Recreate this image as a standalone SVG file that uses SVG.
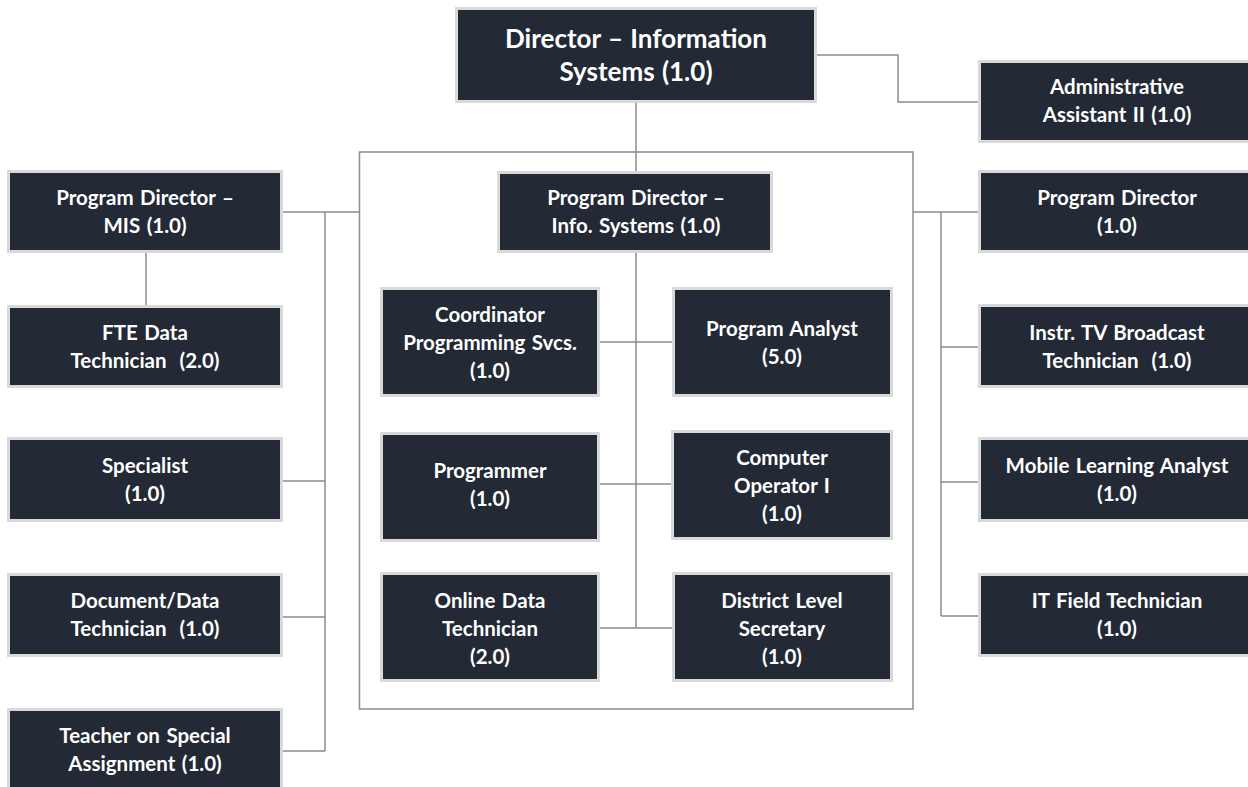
<svg xmlns="http://www.w3.org/2000/svg" width="1248" height="787" viewBox="0 0 1248 787">
  <style>
    .box { fill: #232a36; stroke: #d9d9d9; stroke-width: 3; }
    .lbl { font-family: Lato, "Open Sans", "Liberation Sans", sans-serif; font-weight: 700; font-size: 20.5px; word-spacing: 1.5px; fill: #ffffff; text-anchor: middle; white-space: pre; }
    .big { font-size: 26px; word-spacing: 1px; }
    .wire { fill: none; stroke: #8c8c8c; stroke-width: 1.5; }
  </style>
  <rect width="1248" height="787" fill="#ffffff"/>

  <!-- connectors -->
  <g id="connectors">
    <rect class="wire" x="359.5" y="152" width="553.5" height="557"/>
    <path class="wire" d="M636 103 V171"/>
    <path class="wire" d="M817 55 H898 V102 H978"/>
    <path class="wire" d="M283 212 H359.5"/>
    <path class="wire" d="M325 212 V751"/>
    <path class="wire" d="M283 481 H325 M283 617 H325 M283 751 H325"/>
    <path class="wire" d="M146 253 V305"/>
    <path class="wire" d="M913 212 H978"/>
    <path class="wire" d="M941 212 V616"/>
    <path class="wire" d="M941 347 H978 M941 482 H978 M941 616 H978"/>
    <path class="wire" d="M636 253 V628"/>
    <path class="wire" d="M600 342 H672 M600 484 H671 M600 628 H672"/>
  </g>

  <!-- top -->
  <g id="director">
    <rect class="box" x="456.5" y="8.5" width="359" height="93"/>
    <text class="lbl big" x="636" y="48">Director – Information</text>
    <text class="lbl big" x="636" y="81">Systems (1.0)</text>
  </g>
  <g id="admin-assistant">
    <rect class="box" x="979.5" y="61.5" width="276" height="80"/>
    <text class="lbl" x="1117" y="94">Administrative</text>
    <text class="lbl" x="1117" y="122">Assistant II (1.0)</text>
  </g>

  <!-- left column -->
  <g id="pd-mis">
    <rect class="box" x="8.5" y="171.5" width="273" height="80"/>
    <text class="lbl" x="145" y="205">Program Director –</text>
    <text class="lbl" x="145" y="233">MIS (1.0)</text>
  </g>
  <g id="fte-tech">
    <rect class="box" x="8.5" y="306.5" width="273" height="80"/>
    <text class="lbl" x="145" y="340">FTE Data</text>
    <text class="lbl" x="145" y="368">Technician  (2.0)</text>
  </g>
  <g id="specialist">
    <rect class="box" x="8.5" y="438.5" width="273" height="82"/>
    <text class="lbl" x="145" y="473">Specialist</text>
    <text class="lbl" x="145" y="501">(1.0)</text>
  </g>
  <g id="doc-tech">
    <rect class="box" x="8.5" y="574.5" width="273" height="81"/>
    <text class="lbl" x="145" y="608">Document/Data</text>
    <text class="lbl" x="145" y="636">Technician  (1.0)</text>
  </g>
  <g id="tosa">
    <rect class="box" x="8.5" y="709.5" width="273" height="81"/>
    <text class="lbl" x="145" y="743">Teacher on Special</text>
    <text class="lbl" x="145" y="771">Assignment (1.0)</text>
  </g>

  <!-- centre group -->
  <g id="pd-info">
    <rect class="box" x="498.5" y="172.5" width="273" height="79"/>
    <text class="lbl" x="636" y="205">Program Director –</text>
    <text class="lbl" x="636" y="233">Info. Systems (1.0)</text>
  </g>
  <g id="coordinator">
    <rect class="box" x="381.5" y="288.5" width="217" height="107"/>
    <text class="lbl" x="490" y="322">Coordinator</text>
    <text class="lbl" x="490" y="350">Programming Svcs.</text>
    <text class="lbl" x="490" y="378">(1.0)</text>
  </g>
  <g id="analyst">
    <rect class="box" x="673.5" y="288.5" width="218" height="107"/>
    <text class="lbl" x="782" y="336">Program Analyst</text>
    <text class="lbl" x="782" y="364">(5.0)</text>
  </g>
  <g id="programmer">
    <rect class="box" x="381.5" y="433.5" width="217" height="107"/>
    <text class="lbl" x="490" y="478">Programmer</text>
    <text class="lbl" x="490" y="506">(1.0)</text>
  </g>
  <g id="operator">
    <rect class="box" x="672.5" y="431.5" width="219" height="107"/>
    <text class="lbl" x="782" y="465">Computer</text>
    <text class="lbl" x="782" y="493">Operator I</text>
    <text class="lbl" x="782" y="521">(1.0)</text>
  </g>
  <g id="online-tech">
    <rect class="box" x="381.5" y="573.5" width="217" height="107"/>
    <text class="lbl" x="490" y="608">Online Data</text>
    <text class="lbl" x="490" y="636">Technician</text>
    <text class="lbl" x="490" y="664">(2.0)</text>
  </g>
  <g id="secretary">
    <rect class="box" x="673.5" y="573.5" width="218" height="107"/>
    <text class="lbl" x="782" y="608">District Level</text>
    <text class="lbl" x="782" y="636">Secretary</text>
    <text class="lbl" x="782" y="664">(1.0)</text>
  </g>

  <!-- right column -->
  <g id="pd-right">
    <rect class="box" x="979.5" y="171.5" width="276" height="80"/>
    <text class="lbl" x="1117" y="205">Program Director</text>
    <text class="lbl" x="1117" y="233">(1.0)</text>
  </g>
  <g id="tv-tech">
    <rect class="box" x="979.5" y="305.5" width="276" height="81"/>
    <text class="lbl" x="1117" y="340">Instr. TV Broadcast</text>
    <text class="lbl" x="1117" y="368">Technician  (1.0)</text>
  </g>
  <g id="mobile-analyst">
    <rect class="box" x="979.5" y="438.5" width="276" height="82"/>
    <text class="lbl" x="1117" y="473">Mobile Learning Analyst</text>
    <text class="lbl" x="1117" y="501">(1.0)</text>
  </g>
  <g id="it-field">
    <rect class="box" x="979.5" y="574.5" width="276" height="81"/>
    <text class="lbl" x="1117" y="608">IT Field Technician</text>
    <text class="lbl" x="1117" y="636">(1.0)</text>
  </g>
</svg>
